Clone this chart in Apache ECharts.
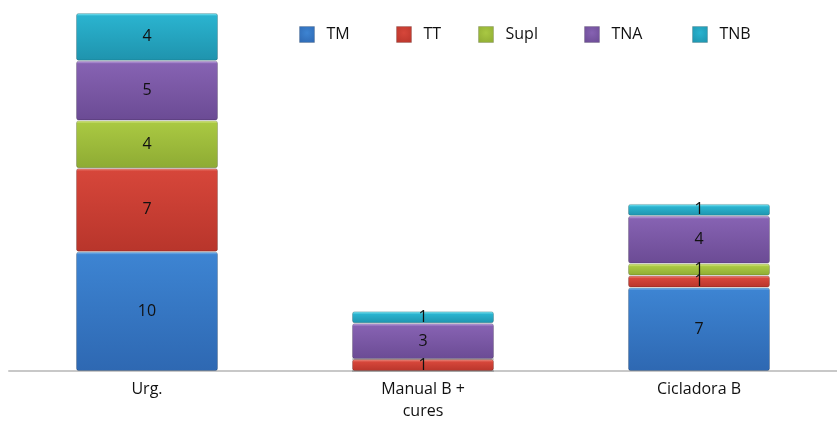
<!DOCTYPE html>
<html>
<head>
<meta charset="utf-8">
<script src="https://cdn.jsdelivr.net/npm/echarts@6/dist/echarts.min.js"></script>
<style>
  html, body { margin: 0; padding: 0; background: #ffffff; }
  #chart { width: 837px; height: 422px; }
</style>
</head>
<body>
<div id="chart"></div>
<script>
// Categories and per-series counts (stacked)
const categories = ['Urg.', 'Manual B +\ncures', 'Cicladora B'];
const seriesNames = ['TM', 'TT', 'Supl', 'TNA', 'TNB'];
const tmValues   = [10, 0, 7];
const ttValues   = [7, 1, 1];
const suplValues = [4, 0, 1];
const tnaValues  = [5, 3, 4];
const tnbValues  = [4, 1, 1];

const seriesValues = [tmValues, ttValues, suplValues, tnaValues, tnbValues];

// Shading per series: [top highlight, main fill, lower fill]
const palettes = [
  ['#92c8f6', '#3d84d2', '#2e68b2'],
  ['#f49c90', '#d6463a', '#b8352b'],
  ['#e8f79e', '#a9c842', '#8eab33'],
  ['#cdb4ee', '#8662b2', '#6b4b94'],
  ['#92f2fc', '#2ab3cf', '#1f93ad']
];
const legendLeft = [299, 396, 478, 584, 692];

const FONT = '"Open Sans", "Noto Sans", sans-serif';

function radialShade(pal) {
  return {
    type: 'radial', x: 0.5, y: 0.4, r: 0.75,
    colorStops: [
      { offset: 0, color: pal[1] },
      { offset: 1, color: pal[2] }
    ]
  };
}

function shadedItem(value, pal) {
  // keep the light rim about 3px tall regardless of segment height
  const rim = Math.min(0.3, 0.25 / Math.max(value, 1));
  return {
    value: value,
    itemStyle: {
      color: {
        type: 'linear', x: 0, y: 0, x2: 0, y2: 1,
        colorStops: [
          { offset: 0, color: pal[0] },
          { offset: rim, color: pal[1] },
          { offset: 1, color: pal[2] }
        ]
      },
      borderColor: 'rgba(0,0,0,0.18)',
      borderWidth: 1,
      borderRadius: 2
    }
  };
}

const series = seriesNames.map((name, i) => ({
  name: name,
  type: 'bar',
  stack: 'total',
  barWidth: 142,
  data: seriesValues[i].map(v => shadedItem(v, palettes[i])),
  label: {
    show: true,
    position: 'inside',
    color: '#111',
    fontSize: 16,
    fontFamily: FONT,
    formatter: p => (p.value ? String(p.value) : '')
  },
  emphasis: { disabled: true }
}));

const legends = seriesNames.map((name, i) => ({
  data: [{ name: name, itemStyle: { color: radialShade(palettes[i]), borderColor: 'rgba(0,0,0,0.15)', borderWidth: 1 } }],
  left: legendLeft[i],
  top: 26,
  padding: 0,
  itemWidth: 15,
  itemHeight: 16,
  itemGap: 0,
  icon: 'rect',
  textStyle: { fontSize: 16, color: '#111', fontFamily: FONT, padding: [0, 0, 0, 7] },
  selectedMode: false
}));

const chart = echarts.init(document.getElementById('chart'), null, { renderer: 'canvas' });
chart.setOption({
  animation: false,
  backgroundColor: '#ffffff',
  grid: { left: 9, width: 831, top: 13, bottom: 48, containLabel: false },
  legend: legends,
  xAxis: {
    type: 'category',
    data: categories,
    axisLine: { show: true, lineStyle: { color: '#c8c8c8', width: 2 } },
    axisTick: { show: false },
    axisLabel: {
      color: '#111',
      fontSize: 16,
      fontFamily: FONT,
      lineHeight: 22,
      margin: 7
    }
  },
  yAxis: {
    type: 'value',
    min: 0,
    max: 30,
    interval: 5,
    show: false,
    splitLine: { show: false }
  },
  series: series
});
</script>
</body>
</html>
